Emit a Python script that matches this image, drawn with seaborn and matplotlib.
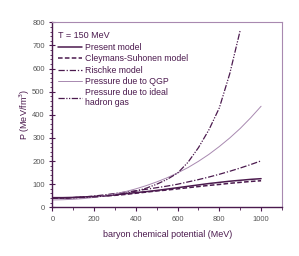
import numpy as np
import pandas as pd
import seaborn as sns
import matplotlib
matplotlib.use('Agg')
import matplotlib.pyplot as plt
from matplotlib.ticker import MultipleLocator

# 데이터 ======================================================
mu = [0, 50, 100, 150, 200, 250, 300, 350, 400, 450, 500,
      550, 600, 650, 700, 750, 800, 850, 900, 950, 1000]
p_present = [42, 42, 43, 45, 47, 50, 54, 59, 64, 68, 73,
             79, 85, 91, 97, 103, 108, 113, 117, 121, 124]
p_cleymans = [40, 40, 42, 44, 46, 49, 52, 56, 61, 66, 71,
              75, 80, 85, 90, 95, 99, 104, 108, 112, 115]
p_rischke = [40, 40, 42, 45, 49, 54, 60, 66, 72, 78, 85,
             92, 100, 110, 120, 131, 143, 156, 170, 185, 201]
p_qgp = [32, 33, 35, 38, 43, 50, 58, 68, 80, 94, 110,
         128, 149, 172, 199, 229, 263, 300, 341, 387, 437]

mu_hg = [0, 50, 100, 150, 200, 250, 300, 350, 400, 450, 500,
         550, 600, 650, 700, 750, 800, 850, 900]
p_hg = [40, 40, 41, 43, 45, 49, 54, 61, 70, 83, 100,
        121, 148, 195, 258, 335, 430, 578, 765]

labels = ['Present model', 'Cleymans-Suhonen model', 'Rischke model',
          'Pressure due to QGP', 'Pressure due to ideal\nhadron gas']

sns.set_style('ticks')
plt.rcParams['font.family'] = ['Liberation Sans', 'DejaVu Sans']

dark = '#4b1a4e'
light = '#a889b0'

fig = plt.figure(figsize=(2.99, 2.56), dpi=100)
ax = fig.add_axes([0.175, 0.19, 0.768, 0.723])

sns.lineplot(x=mu, y=p_present, ax=ax, color=dark, lw=1.1, label=labels[0])
sns.lineplot(x=mu, y=p_cleymans, ax=ax, color=dark, lw=1.1, label=labels[1])
sns.lineplot(x=mu, y=p_rischke, ax=ax, color=dark, lw=0.9, label=labels[2])
sns.lineplot(x=mu, y=p_qgp, ax=ax, color=light, lw=0.7, label=labels[3])
sns.lineplot(x=mu_hg, y=p_hg, ax=ax, color=dark, lw=0.9, label=labels[4])

lines = ax.get_lines()
lines[1].set_dashes([3, 1.5])
lines[2].set_dashes([5, 1.5, 1, 1.5])
lines[4].set_dashes([5, 1.2, 1, 1.2, 1, 1.2])

ax.set_xlim(0, 1100)
ax.set_ylim(0, 800)
ax.xaxis.set_minor_locator(MultipleLocator(100))
ax.yaxis.set_major_locator(MultipleLocator(100))
ax.yaxis.set_minor_locator(MultipleLocator(20))
ax.set_xticks([0, 200, 400, 600, 800, 1000])

ax.tick_params(axis='both', which='major', labelsize=5.5, colors=dark, labelcolor='#555555', width=0.8)
ax.tick_params(axis='x', which='major', direction='out', length=3)
ax.tick_params(axis='x', which='minor', direction='out', length=2, color=dark)
ax.tick_params(axis='y', which='major', direction='inout', length=4)
ax.tick_params(axis='y', which='minor', direction='out', length=1.5, color=dark)

for s in ['left', 'bottom']:
    ax.spines[s].set_color(dark)
    ax.spines[s].set_linewidth(1.0)
for s in ['top', 'right']:
    ax.spines[s].set_visible(True)
    ax.spines[s].set_color(light)
    ax.spines[s].set_linewidth(0.8)

ax.set_xlabel('baryon chemical potential (MeV)', fontsize=6.5, color=dark, labelpad=5)
ax.set_ylabel('P (MeV/fm$^3$)', fontsize=6.5, color=dark, labelpad=0)

ax.text(0.025, 0.955, 'T = 150 MeV', transform=ax.transAxes, fontsize=6.5,
        color=dark, va='top', ha='left')
leg = ax.legend(loc='upper left', bbox_to_anchor=(0.0, 0.915), frameon=False,
                fontsize=6.3, handlelength=2.8, handletextpad=0.3,
                labelspacing=0.25, borderaxespad=0.2)
for t in leg.get_texts():
    t.set_color(dark)

fig.savefig('out.png', dpi=100)
